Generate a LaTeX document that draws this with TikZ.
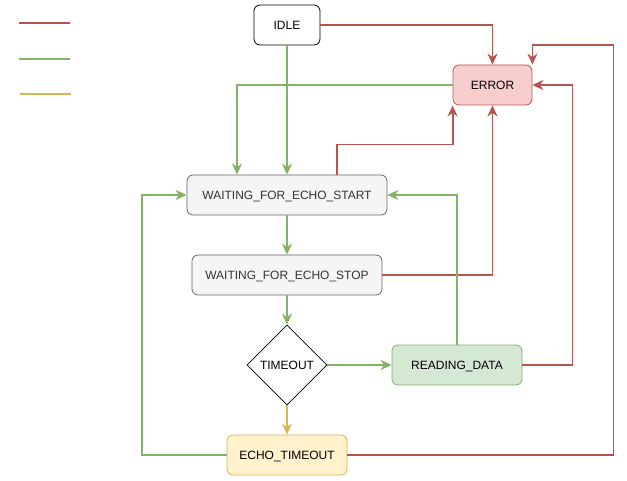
\documentclass[tikz,border=0pt]{standalone}
\usepackage{fontspec}
\setmainfont{Liberation Sans}
\usetikzlibrary{arrows.meta,shapes.geometric,positioning}
\definecolor{redc}{HTML}{B85450}
\definecolor{redf}{HTML}{F8CECC}
\definecolor{greenc}{HTML}{82B366}
\definecolor{greenf}{HTML}{D5E8D4}
\definecolor{yelc}{HTML}{D6B656}
\definecolor{yelf}{HTML}{FFF2CC}
\definecolor{grayc}{HTML}{666666}
\definecolor{grayf}{HTML}{F5F5F5}
\definecolor{grayt}{HTML}{333333}
\tikzset{
  state/.style={draw, rounded corners=6pt, line width=0.8pt, font=\fontsize{12}{14}\selectfont, inner sep=0pt, minimum height=40pt, text height=8.6pt, text depth=0pt},
  grayst/.style={state, draw=grayc, fill=grayf, text=grayt},
  edge/.style={line width=1.8pt, -{Stealth[length=11pt,width=10pt,inset=3.5pt]}},
  redge/.style={edge, draw=redc, color=redc},
  gedge/.style={edge, draw=greenc, color=greenc},
  yedge/.style={edge, draw=yelc, color=yelc},
  legline/.style={line width=2pt}
}
\begin{document}
\begin{tikzpicture}[x=1pt,y=-1pt]
\useasboundingbox (0,0) rectangle (627,481);
% legend
\coordinate (l1a) at (19,23); \coordinate (l1b) at (70,23);
\coordinate (l2a) at (19,59.5); \coordinate (l2b) at (70,59.5);
\coordinate (l3a) at (20,94.5); \coordinate (l3b) at (71,94.5);
\draw[legline, redc] (l1a) -- (l1b);
\draw[legline, greenc] (l2a) -- (l2b);
\draw[legline, yelc] (l3a) -- (l3b);
% nodes
\node[state, draw=black, fill=white, minimum width=66pt] (idle) at (287,25) {IDLE};
\node[state, draw=redc, fill=redf, minimum width=79pt] (error) at (492.5,85) {ERROR};
\node[grayst, minimum width=200pt] (wfes) at (287,195) {WAITING\_FOR\_ECHO\_START};
\node[grayst, minimum width=190pt] (wfstop) at (287,275) {WAITING\_FOR\_ECHO\_STOP};
\node[diamond, draw=black, fill=white, line width=0.8pt, minimum width=80pt, minimum height=80pt, inner sep=0pt, aspect=1, font=\fontsize{12}{14}\selectfont, text height=8.6pt, text depth=0pt] (to) at (287,365) {TIMEOUT};
\node[state, draw=greenc, fill=greenf, minimum width=130pt] (rd) at (457,365) {READING\_DATA};
\node[state, draw=yelc, fill=yelf, minimum width=120pt] (et) at (287,455) {ECHO\_TIMEOUT};
% edges
\draw[redge] (idle.east) -| (error.north);
\draw[gedge] (idle.south) -- (wfes.north);
\draw[gedge] (error.west) -| ([xshift=-50pt]wfes.north);
\draw[redge] ([xshift=50pt]wfes.north) -- ++(0,-30) -| (error.south west);
\draw[gedge] (wfes.south) -- (wfstop.north);
\draw[redge] (wfstop.east) -| (error.south);
\draw[gedge] (wfstop.south) -- (to.north);
\draw[gedge] (to.east) -- (rd.west);
\draw[yedge] (to.south) -- (et.north);
\draw[gedge] (rd.north) |- (wfes.east);
\draw[redge] (rd.east) -- ++(50,0) |- (error.east);
\draw[redge] (et.east) -- ++(266,0) -- ++(0,-410) -| (error.north east);
\draw[gedge] (et.west) -- ++(-85,0) |- (wfes.west);
\end{tikzpicture}
\end{document}
